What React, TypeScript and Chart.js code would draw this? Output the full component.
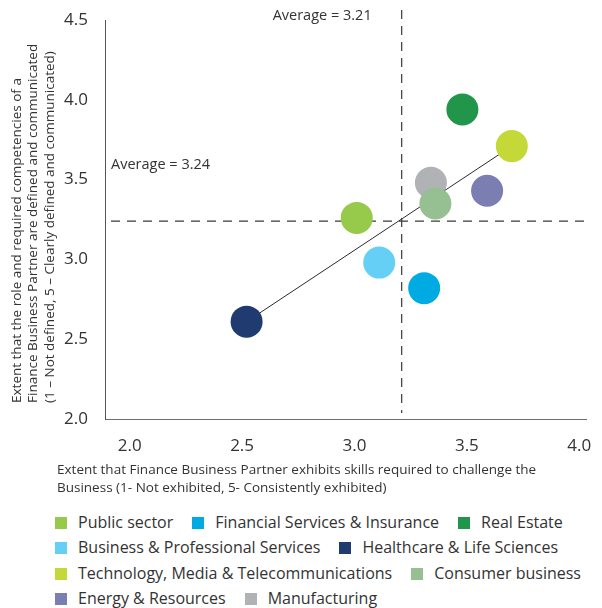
import React, { useEffect, useRef } from "react";
import { Chart, registerables } from "chart.js";

Chart.register(...registerables);

// Sector scores: x = challenge skills, y = role definition
const sectors = [
  "Public sector",
  "Financial Services & Insurance",
  "Real Estate",
  "Business & Professional Services",
  "Healthcare & Life Sciences",
  "Technology, Media & Telecommunications",
  "Consumer business",
  "Energy & Resources",
  "Manufacturing",
];
const challengeScores = [3.01, 3.31, 3.48, 3.11, 2.52, 3.7, 3.36, 3.59, 3.34];
const roleScores = [3.26, 2.82, 3.94, 2.98, 2.61, 3.71, 3.35, 3.43, 3.48];
const sectorColors = [
  "#97C94A",
  "#00ABE4",
  "#21964A",
  "#65CFF5",
  "#1F3B70",
  "#C4D838",
  "#96BF92",
  "#7A7EB1",
  "#B1B2B5",
];
// Manufacturing sits beneath the trend line; the rest above it
const sectorLayer = [1, 1, 1, 1, 1, 1, 1, 1, 3];

const trendX = [2.52, 3.7];
const trendY = [2.61, 3.71];

const xAverage = 3.21;
const yAverage = 3.24;

const xTicks = [2.0, 2.5, 3.0, 3.5, 4.0];
const yTicks = [2.0, 2.5, 3.0, 3.5, 4.0, 4.5];

const xTitleLines = [
  "Extent that Finance Business Partner exhibits skills required to challenge the",
  "Business (1- Not exhibited, 5- Consistently exhibited)",
];
const yTitleLines = [
  "Extent that the role and required competencies of a",
  "Finance Business Partner are defined and communicated",
  "(1 \u2013 Not defined, 5 \u2013 Clearly defined and communicated)",
];

const FONT = '"Open Sans", "Noto Sans", sans-serif';
const TEXT = "#333333";

const averagesPlugin = {
  id: "averages",
  beforeDatasetsDraw(chart: any) {
    const { ctx, scales } = chart;
    const xs = scales.x;
    const ys = scales.y;
    const xp = xs.getPixelForValue(xAverage);
    const yp = ys.getPixelForValue(yAverage);
    ctx.save();
    ctx.strokeStyle = "#3a3a3a";
    ctx.lineWidth = 1.2;
    ctx.setLineDash([9, 7]);
    ctx.beginPath();
    ctx.moveTo(xp, ys.top - 10);
    ctx.lineTo(xp, ys.bottom - 6);
    ctx.stroke();
    ctx.beginPath();
    ctx.moveTo(xs.left + 6, yp);
    ctx.lineTo(xs.right, yp);
    ctx.stroke();
    ctx.setLineDash([]);
    ctx.fillStyle = TEXT;
    ctx.font = `14.5px ${FONT}`;
    ctx.textBaseline = "middle";
    ctx.textAlign = "right";
    ctx.fillText(`Average = ${xAverage.toFixed(2)}`, xp - 30, ys.top - 4);
    ctx.textAlign = "left";
    ctx.fillText(`Average = ${yAverage.toFixed(2)}`, xs.left + 6, yp - 56);
    ctx.restore();
  },
};

const titlesPlugin = {
  id: "axisTitles",
  afterDraw(chart: any) {
    const { ctx, scales } = chart;
    const ys = scales.y;
    const xs = scales.x;
    ctx.save();
    ctx.fillStyle = TEXT;
    ctx.font = `13.5px ${FONT}`;
    ctx.textBaseline = "middle";
    ctx.textAlign = "left";
    xTitleLines.forEach((line, i) => {
      ctx.fillText(line, 57, xs.bottom - 30 + i * 18);
    });
    yTitleLines.forEach((line, i) => {
      ctx.save();
      ctx.translate(17 + i * 16.5, ys.bottom - 16);
      ctx.rotate(-Math.PI / 2);
      ctx.fillText(line, 0, 0);
      ctx.restore();
    });
    ctx.restore();
  },
};

function ScatterChart() {
  const canvasRef = useRef<HTMLCanvasElement | null>(null);

  useEffect(() => {
    const canvas = canvasRef.current;
    if (!canvas) return;

    const pointSets = sectors.map((name, i) => ({
      type: "scatter" as const,
      label: name,
      data: [{ x: challengeScores[i], y: roleScores[i] }],
      backgroundColor: sectorColors[i],
      borderWidth: 0,
      pointRadius: 16,
      pointHoverRadius: 16,
      order: sectorLayer[i],
    }));

    const trendSet = {
      type: "line" as const,
      label: "Trend",
      data: trendX.map((x, i) => ({ x, y: trendY[i] })),
      borderColor: "#2b2b2b",
      borderWidth: 1,
      pointRadius: 0,
      fill: false,
      order: 2,
    };

    const chart = new Chart(canvas, {
      type: "scatter",
      data: { datasets: [...pointSets, trendSet] as any },
      options: {
        animation: false,
        responsive: false,
        events: [],
        layout: { padding: { top: 20, right: 15, left: 0, bottom: 0 } },
        plugins: {
          legend: { display: false },
          tooltip: { enabled: false },
        },
        scales: {
          x: {
            type: "linear",
            min: 1.89,
            max: 4.03,
            afterBuildTicks: (axis: any) => {
              axis.ticks = xTicks.map((v) => ({ value: v }));
            },
            afterFit: (scale: any) => {
              scale.height = 81;
              scale.paddingLeft = 0;
              scale.paddingRight = 0;
            },
            grid: { display: false, drawTicks: false },
            border: { display: true, color: "#6e6e6e", width: 1 },
            ticks: {
              padding: 17,
              color: TEXT,
              font: { family: FONT, size: 17 },
              callback: (v: any) => Number(v).toFixed(1),
            },
          },
          y: {
            type: "linear",
            min: 2,
            max: 4.5,
            afterBuildTicks: (axis: any) => {
              axis.ticks = yTicks.map((v) => ({ value: v }));
            },
            afterFit: (scale: any) => {
              scale.width = 105;
              scale.paddingTop = 0;
              scale.paddingBottom = 0;
            },
            grid: { display: false, drawTicks: false },
            border: { display: true, color: "#555555", width: 1 },
            ticks: {
              padding: 17,
              color: TEXT,
              font: { family: FONT, size: 17 },
              callback: (v: any) => Number(v).toFixed(1),
            },
          },
        },
      },
      plugins: [averagesPlugin, titlesPlugin],
    });

    return () => chart.destroy();
  }, []);

  return (
    <canvas
      ref={canvasRef}
      width={602}
      height={500}
      style={{ position: "absolute", left: 0, top: 0, width: 602, height: 500 }}
    />
  );
}

function Legend() {
  return (
    <div
      style={{
        position: "absolute",
        left: 55,
        top: 510,
        width: 540,
        display: "flex",
        flexWrap: "wrap",
        columnGap: 19,
        fontFamily: FONT,
        fontSize: 16,
        color: TEXT,
        lineHeight: "25.4px",
      }}
    >
      {sectors.map((name, i) => (
        <div key={name} style={{ display: "flex", alignItems: "center", whiteSpace: "nowrap" }}>
          <span
            style={{
              display: "inline-block",
              width: 12,
              height: 12,
              background: sectorColors[i],
              marginRight: 11,
            }}
          />
          <span>{name}</span>
        </div>
      ))}
    </div>
  );
}

export default function App() {
  return (
    <div style={{ position: "absolute", left: 0, top: 0, width: 602, height: 608, background: "#ffffff" }}>
      <ScatterChart />
      <Legend />
    </div>
  );
}
